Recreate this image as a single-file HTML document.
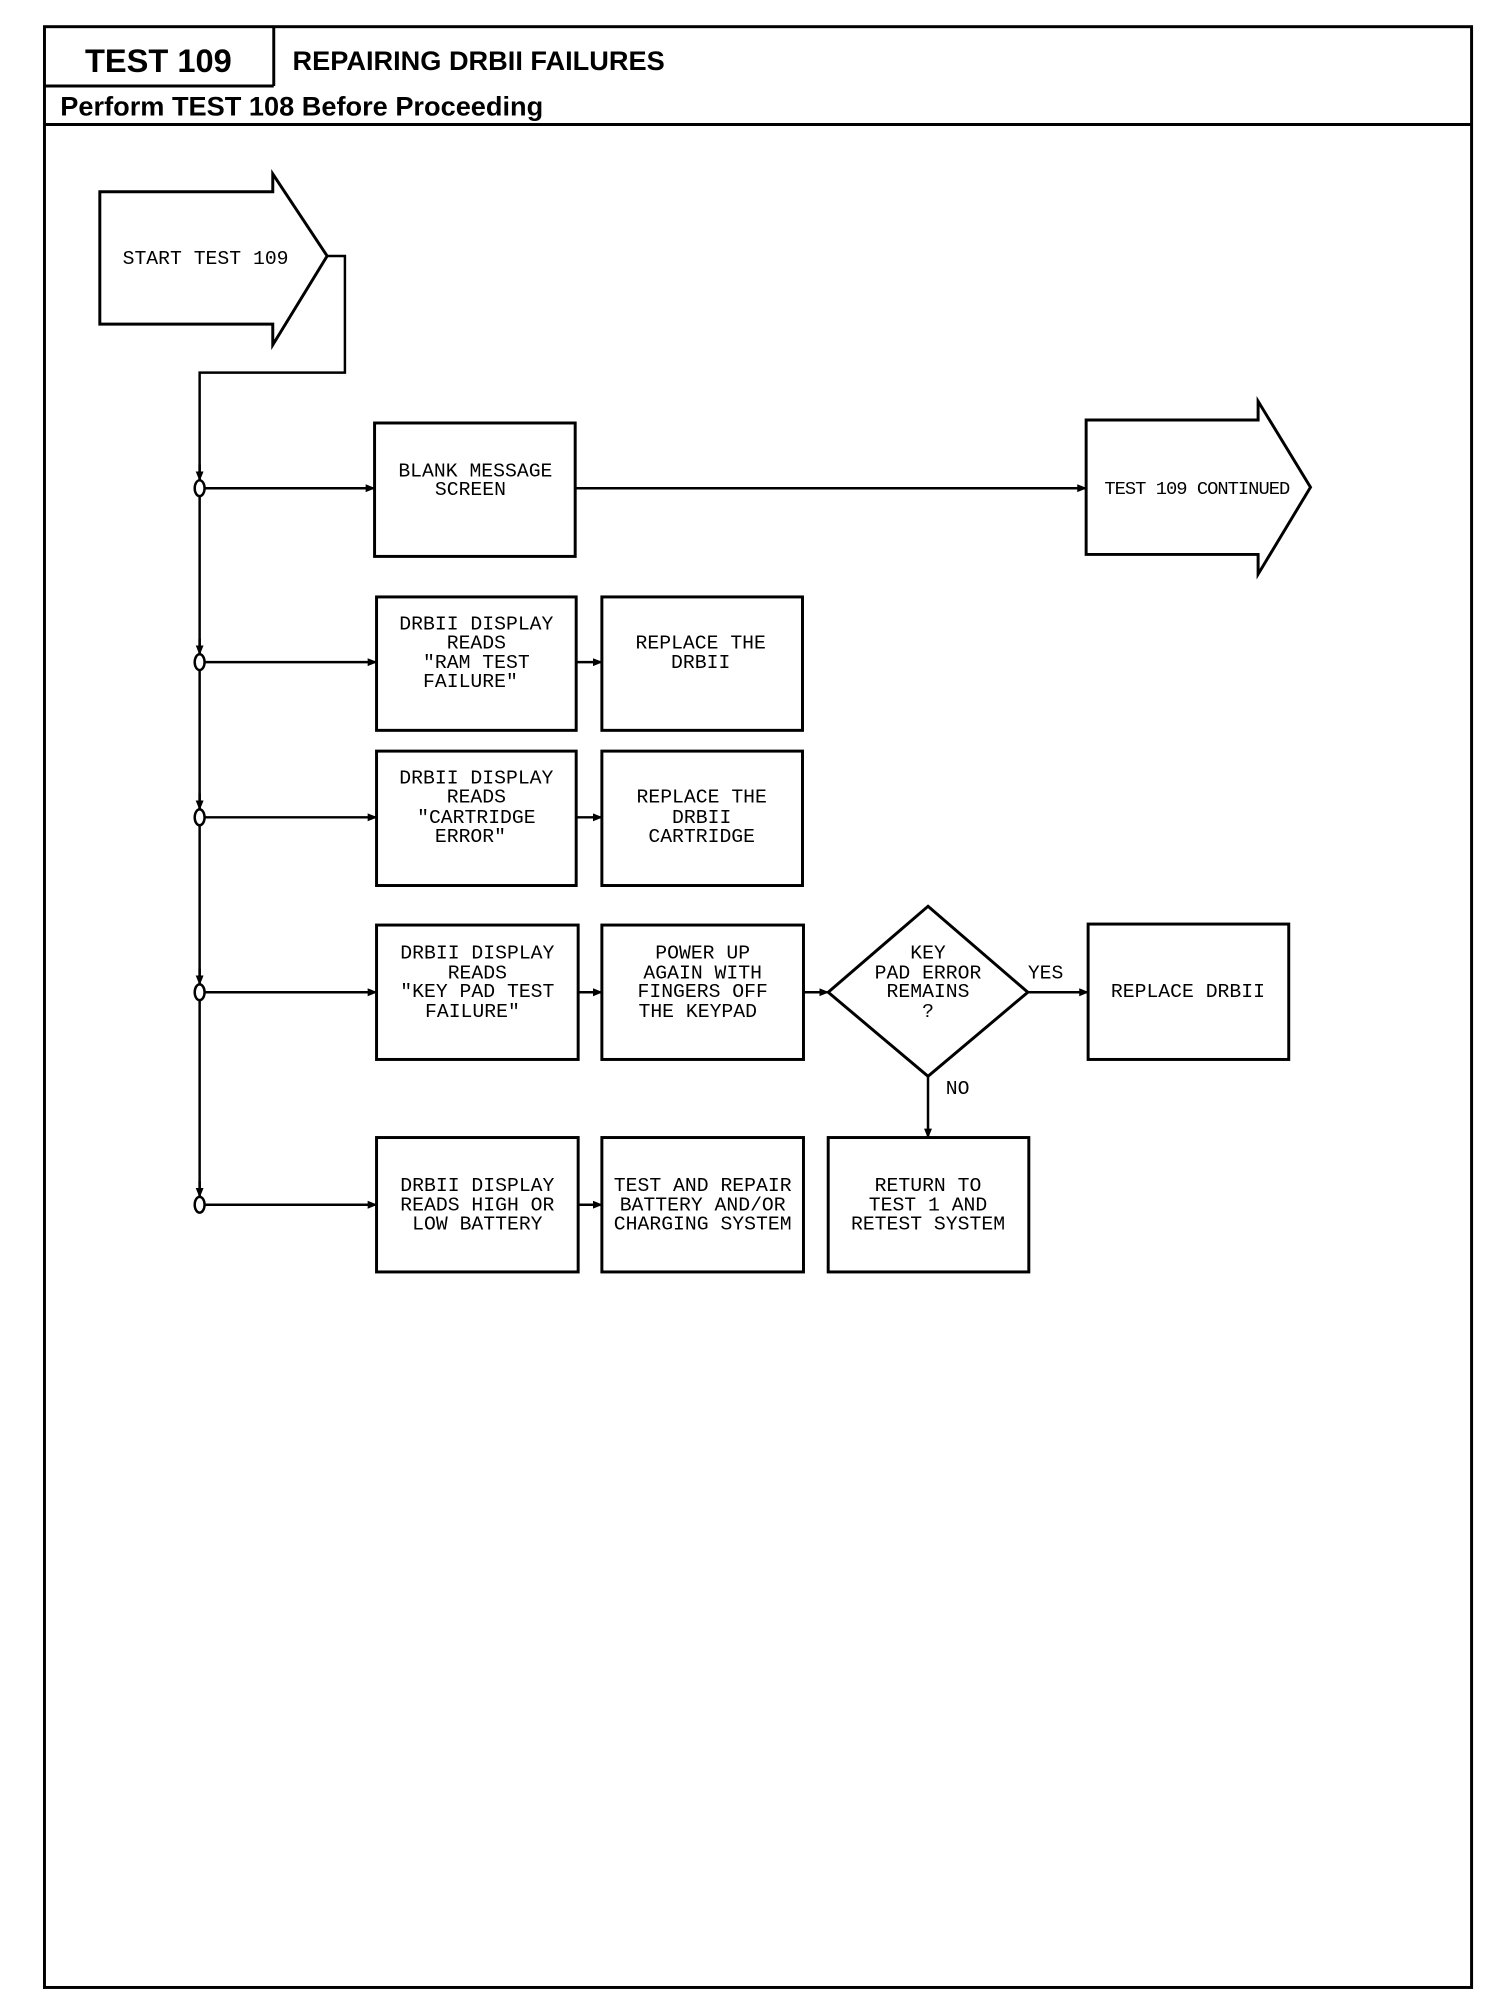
<!DOCTYPE html>
<html><head><meta charset="utf-8"><style>
html,body{margin:0;padding:0;background:#fff;}
svg{display:block;}
.t{font-family:"Liberation Mono",monospace;font-size:20px;fill:#000;text-anchor:middle;}
.h{font-family:"Liberation Sans",sans-serif;font-weight:bold;fill:#000;}
</style></head><body>
<svg width="1504" height="2008" viewBox="0 0 1504 2008" xmlns="http://www.w3.org/2000/svg">
<defs>
<marker id="a" markerWidth="10" markerHeight="10" refX="9" refY="5" orient="auto" markerUnits="userSpaceOnUse">
<path d="M0,1 L10,5 L0,9 z" fill="#000"/></marker>
</defs>
<g transform="scale(0.9883)">
<g fill="none" stroke="#000" stroke-width="3">
<rect x="45" y="27" width="1444" height="1984"/>
<line x1="277" y1="27" x2="277" y2="87"/>
<line x1="45" y1="87" x2="277" y2="87"/>
<line x1="45" y1="126" x2="1489" y2="126"/>
<path d="M101,194 L276,194 L276,176 L331,259 L276,349 L276,328 L101,328 Z"/>
<path d="M331,259 L349,259 L349,377 L202,377 L202,1219" stroke-width="2.5"/>
<g stroke-width="2.5">
<line x1="202" y1="470" x2="202" y2="486" marker-end="url(#a)"/>
<line x1="202" y1="646" x2="202" y2="662" marker-end="url(#a)"/>
<line x1="202" y1="803" x2="202" y2="819" marker-end="url(#a)"/>
<line x1="202" y1="980" x2="202" y2="996" marker-end="url(#a)"/>
<line x1="202" y1="1195" x2="202" y2="1211" marker-end="url(#a)"/>
</g>
<g fill="#fff" stroke-width="2.5">
<ellipse cx="202" cy="494" rx="5" ry="8"/>
<ellipse cx="202" cy="670" rx="5" ry="8"/>
<ellipse cx="202" cy="827" rx="5" ry="8"/>
<ellipse cx="202" cy="1004" rx="5" ry="8"/>
<ellipse cx="202" cy="1219" rx="5" ry="8"/>
</g>
<g stroke-width="2.5">
<line x1="207" y1="494" x2="379" y2="494" marker-end="url(#a)"/>
<line x1="207" y1="670" x2="381" y2="670" marker-end="url(#a)"/>
<line x1="207" y1="827" x2="381" y2="827" marker-end="url(#a)"/>
<line x1="207" y1="1004" x2="381" y2="1004" marker-end="url(#a)"/>
<line x1="207" y1="1219" x2="381" y2="1219" marker-end="url(#a)"/>
<line x1="582" y1="494" x2="1099" y2="494" marker-end="url(#a)"/>
<line x1="583" y1="670" x2="609" y2="670" marker-end="url(#a)"/>
<line x1="583" y1="827" x2="609" y2="827" marker-end="url(#a)"/>
<line x1="585" y1="1004" x2="609" y2="1004" marker-end="url(#a)"/>
<line x1="813" y1="1004" x2="838" y2="1004" marker-end="url(#a)"/>
<line x1="1040" y1="1004" x2="1101" y2="1004" marker-end="url(#a)"/>
<line x1="585" y1="1219" x2="609" y2="1219" marker-end="url(#a)"/>
<line x1="939" y1="1089" x2="939" y2="1151" marker-end="url(#a)"/>
</g>
<rect x="379" y="428" width="203" height="135"/>
<rect x="381" y="604" width="202" height="135"/>
<rect x="609" y="604" width="203" height="135"/>
<rect x="381" y="760" width="202" height="136"/>
<rect x="609" y="760" width="203" height="136"/>
<rect x="381" y="936" width="204" height="136"/>
<rect x="609" y="936" width="204" height="136"/>
<path d="M939,917 L1040,1004 L939,1089 L838,1004 Z"/>
<rect x="1101" y="935" width="203" height="137"/>
<rect x="381" y="1151" width="204" height="136"/>
<rect x="609" y="1151" width="204" height="136"/>
<rect x="838" y="1151" width="203" height="136"/>
<path d="M1099,425 L1273,425 L1273,406 L1326,493 L1273,581 L1273,561 L1099,561 Z"/>
</g>
<text class="h" x="86" y="73" font-size="33">TEST 109</text>
<text class="h" x="296" y="71" font-size="27.5">REPAIRING DRBII FAILURES</text>
<text class="h" x="61" y="117" font-size="27.5">Perform TEST 108 Before Proceeding</text>
<g class="t">
<text x="208" y="267">START TEST 109</text>
<text x="481" y="482">BLANK MESSAGE</text>
<text x="476" y="501">SCREEN</text>
<text x="482" y="637">DRBII DISPLAY</text>
<text x="482" y="656">READS</text>
<text x="482" y="676">"RAM TEST</text>
<text x="476" y="695">FAILURE"</text>
<text x="709" y="656">REPLACE THE</text>
<text x="709" y="676">DRBII</text>
<text x="482" y="793">DRBII DISPLAY</text>
<text x="482" y="812">READS</text>
<text x="482" y="833">"CARTRIDGE</text>
<text x="476" y="852">ERROR"</text>
<text x="710" y="812">REPLACE THE</text>
<text x="710" y="833">DRBII</text>
<text x="710" y="852">CARTRIDGE</text>
<text x="483" y="970">DRBII DISPLAY</text>
<text x="483" y="990">READS</text>
<text x="483" y="1009">"KEY PAD TEST</text>
<text x="478" y="1029">FAILURE"</text>
<text x="711" y="970">POWER UP</text>
<text x="711" y="990">AGAIN WITH</text>
<text x="711" y="1009">FINGERS OFF</text>
<text x="706" y="1029">THE KEYPAD</text>
<text x="939" y="970">KEY</text>
<text x="939" y="990">PAD ERROR</text>
<text x="939" y="1009">REMAINS</text>
<text x="939" y="1029">?</text>
<text x="1058" y="990">YES</text>
<text x="969" y="1107">NO</text>
<text x="1202" y="1009">REPLACE DRBII</text>
<text x="483" y="1205">DRBII DISPLAY</text>
<text x="483" y="1225">READS HIGH OR</text>
<text x="483" y="1244">LOW BATTERY</text>
<text x="711" y="1205">TEST AND REPAIR</text>
<text x="711" y="1225">BATTERY AND/OR</text>
<text x="711" y="1244">CHARGING SYSTEM</text>
<text x="939" y="1205">RETURN TO</text>
<text x="939" y="1225">TEST 1 AND</text>
<text x="939" y="1244">RETEST SYSTEM</text>
<text x="1211" y="500" font-size="19" letter-spacing="-1">TEST 109 CONTINUED</text>
</g>
</g>
</svg>
</body></html>
